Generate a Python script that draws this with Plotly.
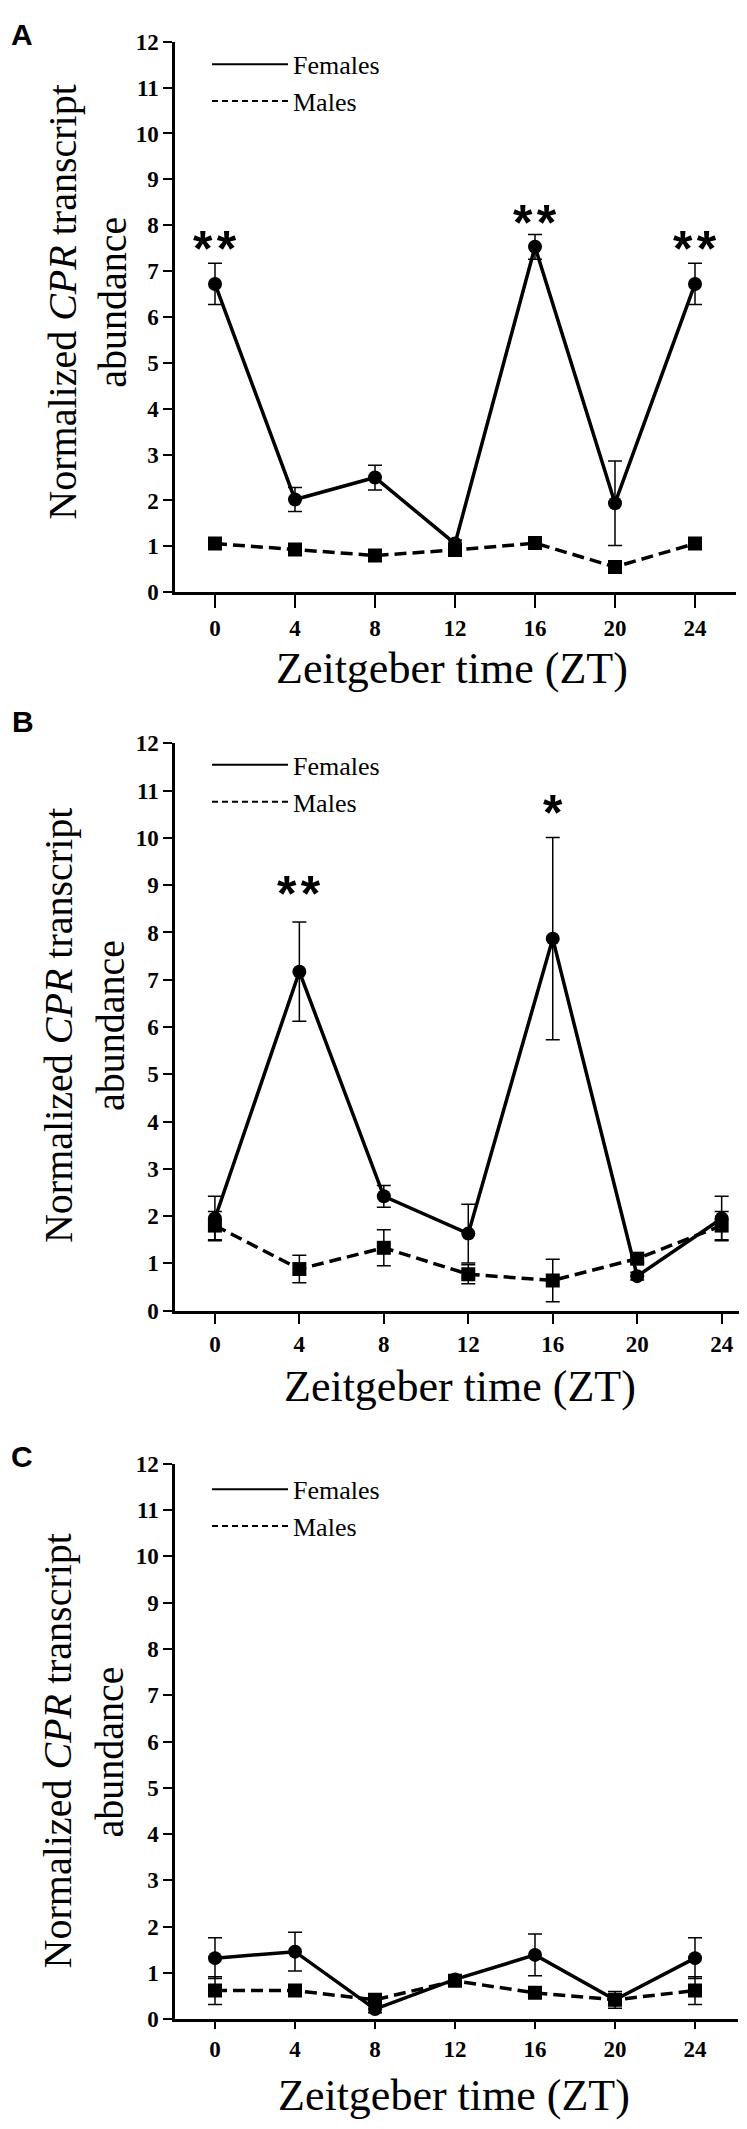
import plotly.graph_objects as go

# ---------------- data ----------------
ZT = [0, 4, 8, 12, 16, 20, 24]
X_TICKS = [0, 4, 8, 12, 16, 20, 24]
Y_TICKS = list(range(0, 13))

A_fem = [6.72, 2.02, 2.50, 1.06, 7.53, 1.94, 6.72]
A_fem_err = [0.45, 0.26, 0.27, 0.08, 0.27, 0.92, 0.45]
A_male = [1.06, 0.93, 0.80, 0.92, 1.07, 0.55, 1.06]
A_male_err = [0.08, 0.07, 0.06, 0.06, 0.07, 0.06, 0.08]
A_star_x = [0, 16, 24]
A_star_y = [7.6, 8.16, 7.58]
A_star_txt = ["**", "**", "**"]

B_fem = [1.95, 7.17, 2.42, 1.63, 7.87, 0.73, 1.95]
B_fem_err = [0.47, 1.05, 0.23, 0.62, 2.14, 0.08, 0.47]
B_male = [1.80, 0.88, 1.33, 0.77, 0.64, 1.10, 1.80]
B_male_err = [0.30, 0.29, 0.38, 0.20, 0.45, 0.08, 0.30]
B_star_x = [4, 16]
B_star_y = [8.93, 10.64]
B_star_txt = ["**", "*"]

C_fem = [1.32, 1.46, 0.22, 0.86, 1.39, 0.42, 1.32]
C_fem_err = [0.44, 0.42, 0.08, 0.08, 0.45, 0.18, 0.44]
C_male = [0.62, 0.62, 0.42, 0.83, 0.57, 0.42, 0.62]
C_male_err = [0.30, 0.06, 0.06, 0.08, 0.06, 0.06, 0.30]
C_star_x = []
C_star_y = []
C_star_txt = []

PANEL_LABELS = ["A", "B", "C"]
SERIES_NAMES = ["Females", "Males"]
X_TITLE = "Zeitgeber time (ZT)"
Y_TITLE_1 = "Normalized <i>CPR</i> transcript"
Y_TITLE_2 = "abundance"

# ---------------- layout geometry (pixels) ----------------
W, H = 747, 2129
SERIF = "Liberation Serif"
SANS = "Liberation Sans"

panels = [
    dict(data=(A_fem, A_fem_err, A_male, A_male_err), stars=(A_star_x, A_star_y, A_star_txt),
         top=22, bottom=579, left=167, right=728, xr=[-2.0, 26.05], xtick=13,
         label=(14, 15), ytitle=(55, 105, 286), legend_top=21),
    dict(data=(B_fem, B_fem_err, B_male, B_male_err), stars=(B_star_x, B_star_y, B_star_txt),
         top=732, bottom=1306, left=167, right=743, xr=[-1.89, 25.39], xtick=11,
         label=(15, 710), ytitle=(50, 102, 1018), legend_top=730),
    dict(data=(C_fem, C_fem_err, C_male, C_male_err), stars=(C_star_x, C_star_y, C_star_txt),
         top=1461, bottom=2023, left=167, right=730, xr=[-2.0, 26.15], xtick=7,
         label=(14, 1454), ytitle=(49, 101, 1752), legend_top=1463),
]


def py(p):
    return 1 - p / H


def px(p):
    return p / W


fig = go.Figure()
annotations = []
layout = dict(
    width=W, height=H, margin=dict(l=0, r=0, t=0, b=0),
    paper_bgcolor="white", plot_bgcolor="white", showlegend=True,
)


def paper_text(x, y, text, size, family, angle=0, weight="normal"):
    return dict(x=px(x), y=py(y), xref="paper", yref="paper", text=text,
                textangle=angle, showarrow=False, xanchor="center", yanchor="middle",
                font=dict(family=family, size=size, color="black", weight=weight))


for i, p in enumerate(panels):
    n = "" if i == 0 else str(i + 1)
    xa, ya = "x" + n, "y" + n
    lg = "legend" + n
    fem, fem_err, male, male_err = p["data"]

    fig.add_trace(go.Scatter(
        x=ZT, y=male, xaxis=xa, yaxis=ya, mode="lines+markers", showlegend=False,
        line=dict(color="black", width=3.5, dash="12px,6px"),
        marker=dict(symbol="square", size=14, color="black"),
        error_y=dict(type="data", array=male_err, visible=True, color="black",
                     thickness=1.5, width=7),
    ))
    fig.add_trace(go.Scatter(
        x=ZT, y=fem, xaxis=xa, yaxis=ya, mode="lines+markers", showlegend=False,
        line=dict(color="black", width=3.5),
        marker=dict(symbol="circle", size=14, color="black"),
        error_y=dict(type="data", array=fem_err, visible=True, color="black",
                     thickness=1.5, width=7),
    ))
    # legend entries (line only, as in the reference)
    fig.add_trace(go.Scatter(x=[None], y=[None], xaxis=xa, yaxis=ya, mode="lines",
                             name=SERIES_NAMES[0], legend=lg,
                             line=dict(color="black", width=2)))
    fig.add_trace(go.Scatter(x=[None], y=[None], xaxis=xa, yaxis=ya, mode="lines",
                             name=SERIES_NAMES[1], legend=lg,
                             line=dict(color="black", width=2, dash="6px,4px")))

    layout["xaxis" + n] = dict(
        domain=[px(p["left"]), px(p["right"])], range=p["xr"], anchor=ya,
        tickmode="array", tickvals=X_TICKS, ticktext=[str(v) for v in X_TICKS],
        ticks="outside", ticklen=p["xtick"], tickwidth=2, tickcolor="black",
        showline=True, linecolor="black", linewidth=2.5, showgrid=False, zeroline=False,
        tickfont=dict(family=SERIF, size=23, color="black", weight="bold"),
    )
    layout["yaxis" + n] = dict(
        domain=[py(p["bottom"]), py(p["top"])], range=[0, 12], anchor=xa,
        tickmode="array", tickvals=Y_TICKS, ticktext=[str(v) for v in Y_TICKS],
        ticks="outside", ticklen=9, tickwidth=2, tickcolor="black",
        showline=True, linecolor="black", linewidth=2.5, showgrid=False, zeroline=False,
        tickfont=dict(family=SERIF, size=23, color="black", weight="bold"),
    )
    layout[lg] = dict(
        x=px(199), y=py(p["legend_top"]), xanchor="left", yanchor="top",
        bgcolor="rgba(0,0,0,0)", borderwidth=0, itemwidth=76,
        font=dict(family=SERIF, size=26, color="black"), tracegroupgap=0,
    )

    # significance stars
    sx, sy, st = p["stars"]
    for xv, yv, tv in zip(sx, sy, st):
        annotations.append(dict(
            x=xv, y=yv, xref=xa, yref=ya, text="\u200a".join(tv), showarrow=False,
            xanchor="center", yanchor="middle", yshift=-5,
            font=dict(family=SANS, size=50, color="black", weight="bold"),
        ))

    l1x, l2x, ty = p["ytitle"]
    annotations.append(paper_text(l1x, ty, Y_TITLE_1, 40, SERIF, angle=-90))
    annotations.append(paper_text(l2x, ty, Y_TITLE_2, 40, SERIF, angle=-90))
    annotations.append(paper_text((p["left"] + p["right"]) / 2 - 3, p["bottom"] + 77,
                                  X_TITLE, 44, SERIF))
    lx, lyy = p["label"]
    annotations.append(paper_text(lx, lyy, PANEL_LABELS[i], 30, SANS, weight="bold"))

layout["annotations"] = annotations
fig.update_layout(**layout)
fig.write_html("out.html")
